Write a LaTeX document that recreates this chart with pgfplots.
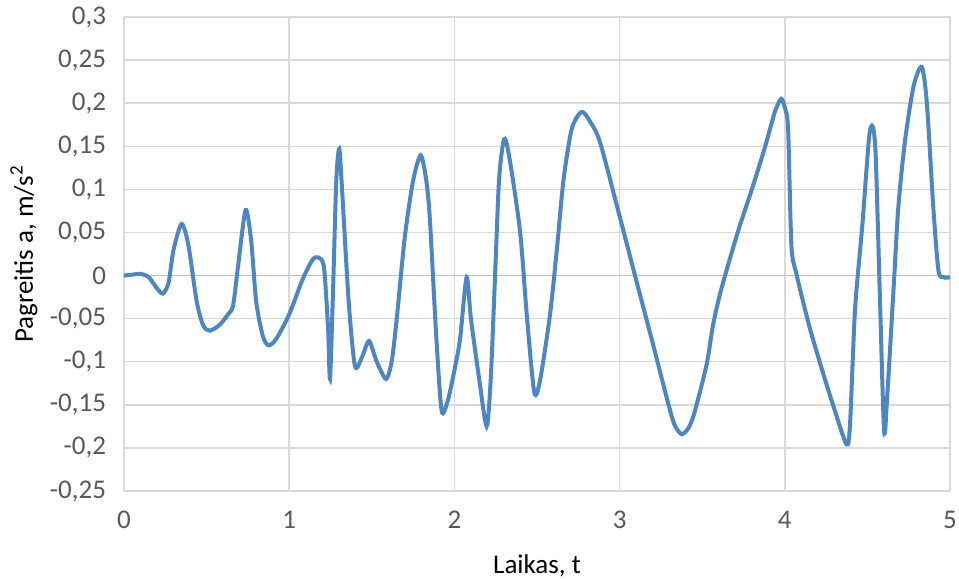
\documentclass[border=0pt]{standalone}
\usepackage{pgfplots}
\pgfplotsset{compat=1.18}
\usepackage{fontspec}
\setmainfont{Carlito}
\definecolor{series}{HTML}{4C87C4}
\definecolor{gridc}{HTML}{D9D9D9}
\definecolor{zeroc}{HTML}{BFBFBF}
\definecolor{textc}{HTML}{595959}
\begin{document}
\begin{tikzpicture}
\useasboundingbox (-62bp,-44bp) rectangle (417.5bp,245.5bp);
\begin{axis}[
  at={(0,0)}, anchor=south west,
  scale only axis,
  width=413bp, height=237bp,
  xmin=0, xmax=5, ymin=-0.25, ymax=0.3,
  xtick={0,1,2,3,4,5},
  xticklabels={0,1,2,3,4,5},
  ytick={-0.25,-0.2,-0.15,-0.1,-0.05,0,0.05,0.1,0.15,0.2,0.25,0.3},
  yticklabels={{-0,25},{-0,2},{-0,15},{-0,1},{-0,05},{0},{0,05},{0,1},{0,15},{0,2},{0,25},{0,3}},
  grid=major,
  major grid style={color=gridc, line width=0.75bp},
  axis line style={draw=none},
  major tick length=0pt,
  font=\fontsize{13.5bp}{16bp}\selectfont,
  tick label style={color=textc},
  xticklabel style={anchor=north, yshift=-6.5bp},
  yticklabel style={anchor=east, xshift=-5.5bp},
  xlabel={Laikas, t},
  ylabel={Pagreitis a, m/s\textsuperscript{2}},
  label style={color=textc},
  every axis x label/.style={at={(axis description cs:0.5,0)}, anchor=base, yshift=-41bp},
  every axis y label/.style={at={(axis description cs:0,0.5)}, anchor=base, rotate=90, yshift=45.5bp},
  clip=false,
]
\draw[color=zeroc, line width=0.75bp] (axis cs:0,0) -- (axis cs:5,0);
\addplot[color=series, line width=2bp, smooth, tension=0.45, mark=none] coordinates {
(0,0) (0.05,0.001) (0.1,0.002) (0.15,-0.002) (0.2,-0.015) (0.236,-0.021)
(0.27,-0.008) (0.3,0.03) (0.349,0.060) (0.39,0.035) (0.44,-0.03) (0.48,-0.058)
(0.52,-0.064) (0.58,-0.057) (0.63,-0.045) (0.66,-0.035) (0.69,0.01) (0.736,0.076)
(0.77,0.04) (0.80,-0.03) (0.84,-0.07) (0.874,-0.081) (0.92,-0.074) (1.0,-0.045)
(1.08,-0.005) (1.14,0.018) (1.176,0.021) (1.21,0.01) (1.235,-0.06) (1.247,-0.12)
(1.265,-0.02) (1.285,0.11) (1.303,0.147) (1.32,0.10) (1.36,-0.03) (1.398,-0.105)
(1.44,-0.095) (1.483,-0.076) (1.53,-0.10) (1.586,-0.12) (1.62,-0.10) (1.65,-0.052)
(1.70,0.045) (1.75,0.11) (1.796,0.1395) (1.83,0.11) (1.852,0.064) (1.89,-0.07)
(1.923,-0.157) (1.96,-0.145) (2.0,-0.11) (2.034,-0.074) (2.074,-0.002) (2.10,-0.05)
(2.15,-0.12) (2.195,-0.175) (2.22,-0.12) (2.245,-0.006) (2.27,0.11) (2.30,0.158)
(2.33,0.14) (2.397,0.052) (2.44,-0.05) (2.484,-0.136) (2.52,-0.12) (2.579,-0.045)
(2.62,0.03) (2.66,0.11) (2.71,0.17) (2.77,0.19) (2.82,0.179) (2.881,0.155)
(3.0,0.069) (3.1,-0.005) (3.2,-0.078) (3.28,-0.138) (3.33,-0.172) (3.376,-0.184)
(3.42,-0.176) (3.456,-0.157) (3.527,-0.103) (3.567,-0.056) (3.618,-0.014)
(3.718,0.052) (3.799,0.099) (3.88,0.149) (3.94,0.19) (3.978,0.205) (4.0,0.195) (4.02,0.17)
(4.04,0.035) (4.07,0.002) (4.15,-0.06) (4.233,-0.114) (4.30,-0.155) (4.374,-0.196)
(4.395,-0.172) (4.425,-0.04) (4.47,0.06) (4.51,0.16) (4.532,0.173) (4.55,0.14)
(4.575,-0.02) (4.601,-0.18) (4.62,-0.14) (4.66,-0.01) (4.687,0.079) (4.728,0.157)
(4.78,0.22) (4.829,0.242) (4.86,0.20) (4.899,0.079) (4.93,0.006) (4.96,-0.002)
(5.0,-0.002)
};
\end{axis}
\end{tikzpicture}
\end{document}
